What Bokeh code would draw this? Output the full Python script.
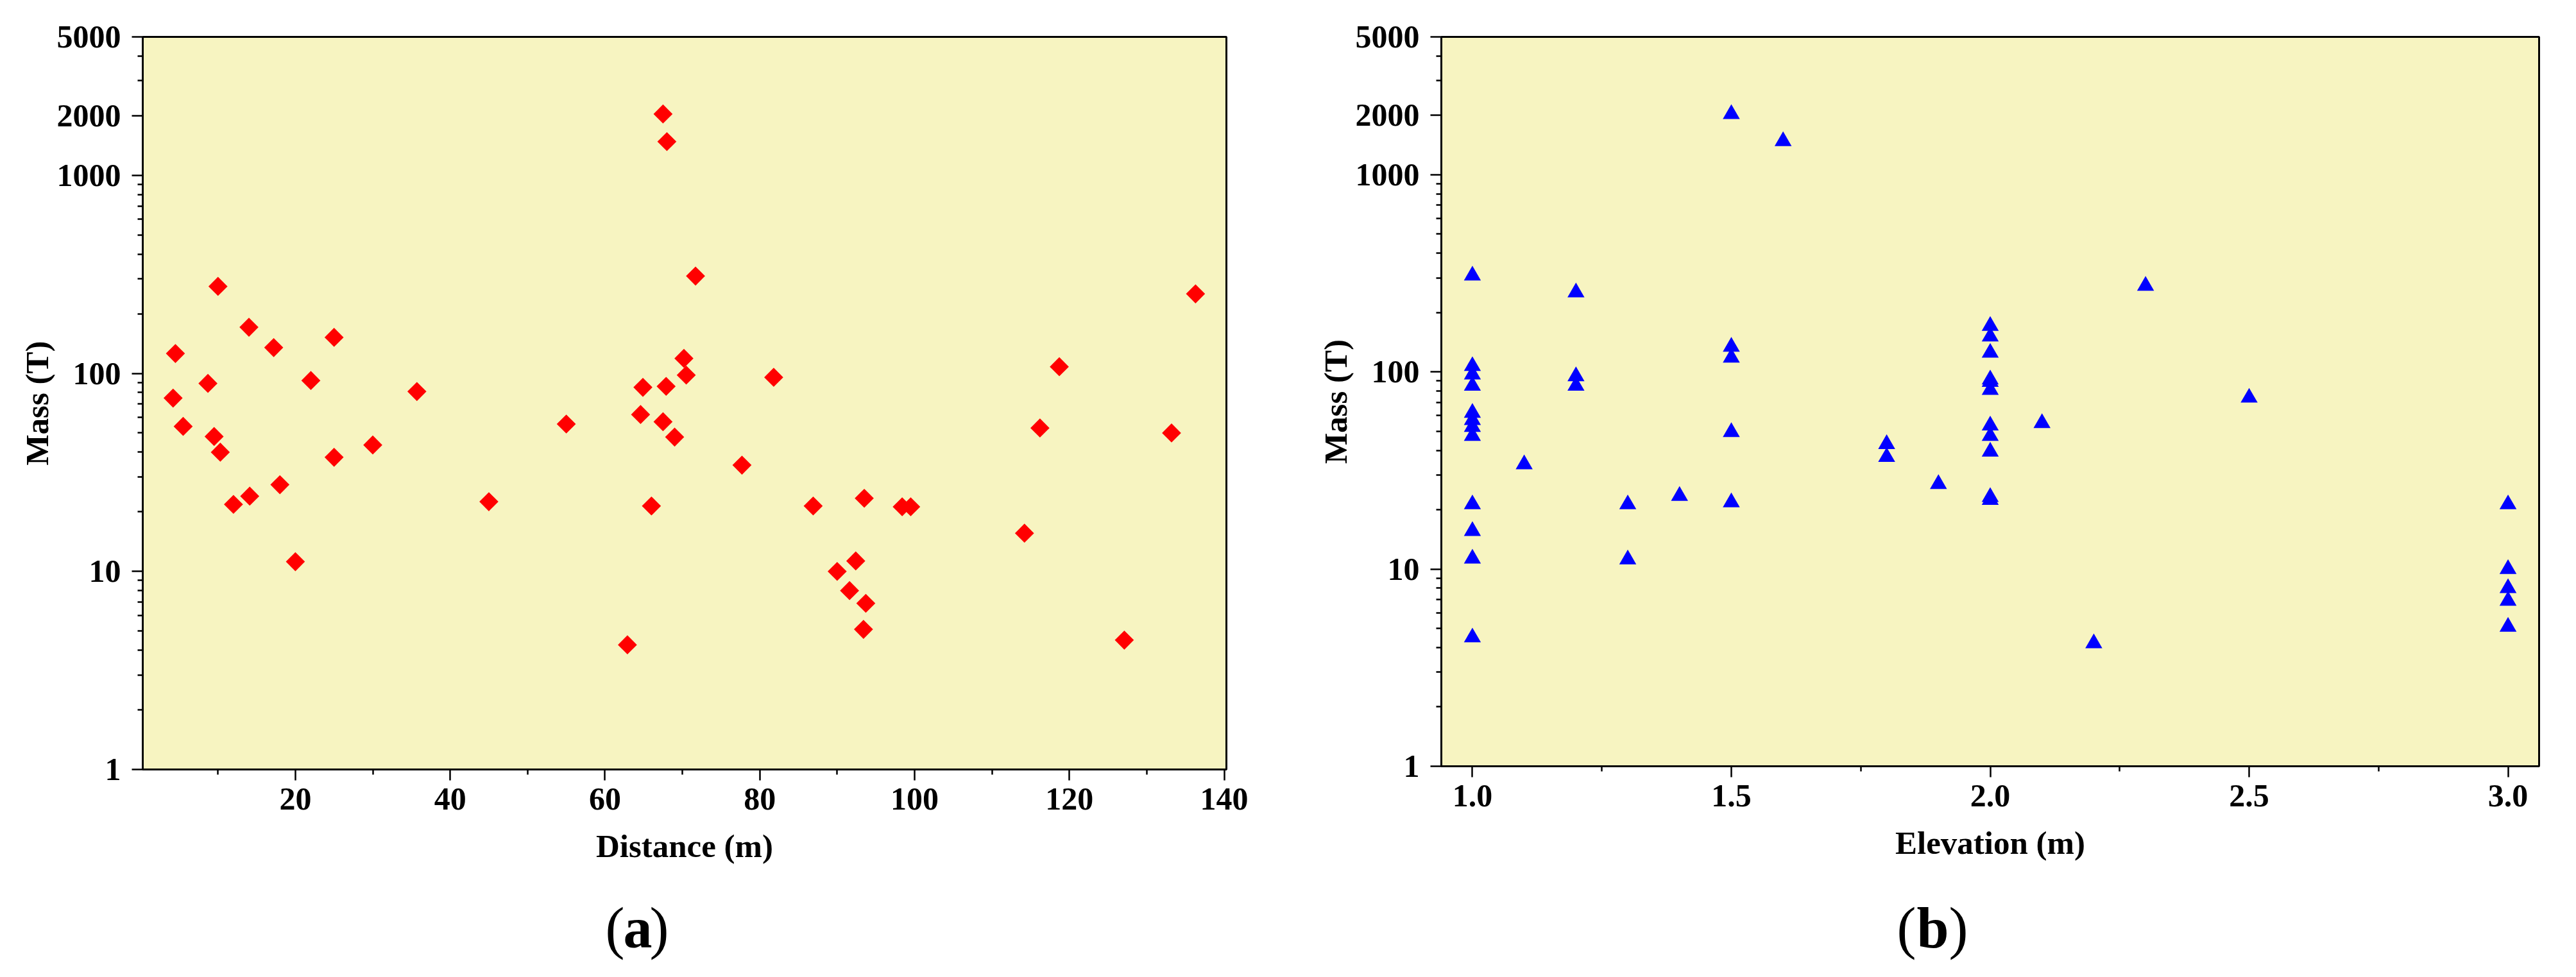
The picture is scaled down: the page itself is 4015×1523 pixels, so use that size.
from bokeh.plotting import figure
from bokeh.models import Range1d, FixedTicker, PrintfTickFormatter
from bokeh.core.properties import value
from bokeh.layouts import row, column
from bokeh.embed import file_html
from bokeh.resources import INLINE
import math

# ---------------- data ----------------
# (a) Mass vs distance
distance = [4.2, 4.5, 5.5, 8.7, 9.5, 10, 10.3, 12, 14, 14.1, 17.2, 18, 20, 22, 25, 25,
            30, 35.7, 45, 55, 62.9, 64.6, 64.9, 66, 67.5, 67.5, 67.9, 68, 69, 70.2,
            70.5, 71.7, 77.7, 81.8, 86.9, 90, 91.6, 92.4, 93.4, 93.5, 93.7, 98.4,
            99.5, 114.2, 116.2, 118.7, 127.1, 133.2, 136.3]
mass_a = [75, 126, 54, 89, 48, 275, 40, 21.8, 171, 24, 135, 27.4, 11.2, 92, 152, 37.7,
          43.5, 81, 22.5, 55.5, 4.26, 62, 85, 21.4, 2040, 57, 86, 1480, 47.7, 119,
          98, 310, 34.4, 95.5, 21.4, 10, 8, 11.3, 5.1, 23.4, 6.9, 21.2,
          21.2, 15.6, 53, 108, 4.5, 50, 252]

# (b) Mass vs elevation
elevation = [1.0, 1.0, 1.0, 1.0, 1.0, 1.0, 1.0, 1.0, 1.0, 1.0, 1.0, 1.0,
             1.1,
             1.2, 1.2, 1.2,
             1.3, 1.3,
             1.4,
             1.5, 1.5, 1.5, 1.5, 1.5,
             1.6,
             1.8, 1.8,
             1.9,
             2.0, 2.0, 2.0, 2.0, 2.0, 2.0, 2.0, 2.0, 2.0, 2.0, 2.0,
             2.1,
             2.2,
             2.3,
             2.5,
             3.0, 3.0, 3.0, 3.0, 3.0]
mass_b = [308, 107, 97, 85, 62, 57, 52.6, 47.3, 21.3, 15.6, 11.3, 4.5,
          34,
          253, 95, 85,
          21.3, 11.2,
          23.5,
          2030, 134, 118, 49.5, 21.8,
          1480,
          43, 37,
          27,
          171, 151, 125, 91.5, 89, 81, 53.5, 47.3, 39.4, 23.2, 22.4,
          55,
          4.2,
          273,
          74,
          21.3, 10, 8, 6.9, 5.1]

y_ticks = [1, 10, 100, 1000, 2000, 5000]
y_minor = [2, 3, 4, 5, 6, 7, 8, 9, 20, 30, 40, 50, 60, 70, 80, 90,
           200, 300, 400, 500, 600, 700, 800, 900, 3000, 4000]
x_ticks_a = [20, 40, 60, 80, 100, 120, 140]
x_minor_a = [10, 30, 50, 70, 90, 110, 130]
x_ticks_b = [1.0, 1.5, 2.0, 2.5, 3.0]
x_minor_b = [1.25, 1.75, 2.25, 2.75]

captions = ["a", "b"]

FONT = "Liberation Serif"
BG = "#F7F4C1"
MAIN_H = 1372
CAP_H = 135
TOTAL_W = 3999


def make_fig(xr, border_left, border_right, border_top, fw, fh, xlabel,
             xticks, xminor, xfmt):
    p = figure(title=None,
               x_range=Range1d(*xr), y_range=Range1d(1, 5000), y_axis_type="log",
               frame_width=fw, frame_height=fh,
               min_border_left=border_left, min_border_right=border_right,
               min_border_top=border_top, min_border_bottom=MAIN_H - border_top - fh,
               output_backend="svg", toolbar_location=None,
               background_fill_color=BG, border_fill_color="white")
    p.grid.visible = False
    p.outline_line_color = "black"
    p.outline_line_width = 3
    p.outline_line_alpha = 1.0
    for ax in (p.xaxis[0], p.yaxis[0]):
        ax.axis_line_width = 3
        ax.axis_line_color = "black"
        ax.major_tick_line_width = 2.5
        ax.minor_tick_line_width = 2.5
        ax.major_tick_line_color = "black"
        ax.minor_tick_line_color = "black"
        ax.major_tick_out = 17
        ax.major_tick_in = 0
        ax.minor_tick_out = 8
        ax.minor_tick_in = 0
        ax.major_label_text_font = FONT
        ax.major_label_text_font_size = "50px"
        ax.major_label_text_font_style = "bold"
        ax.major_label_text_color = "black"
        ax.axis_label_text_font = FONT
        ax.axis_label_text_font_size = "51px"
        ax.axis_label_text_font_style = "bold"
        ax.axis_label_text_color = "black"
    p.yaxis[0].ticker = FixedTicker(ticks=y_ticks, minor_ticks=y_minor)
    p.yaxis[0].formatter = PrintfTickFormatter(format="%d")
    p.yaxis[0].axis_label = "Mass (T)"
    p.yaxis[0].major_label_standoff = 17
    p.yaxis[0].axis_label_standoff = 0
    p.xaxis[0].ticker = FixedTicker(ticks=xticks, minor_ticks=xminor)
    p.xaxis[0].formatter = PrintfTickFormatter(format=xfmt)
    p.xaxis[0].axis_label = xlabel
    p.xaxis[0].major_label_standoff = 12
    p.xaxis[0].axis_label_standoff = 26
    return p


pa = make_fig((0.28, 140.29), 222, 89, 52, 1689, 1142, "Distance (m)",
              x_ticks_a, x_minor_a, "%d")
pa.scatter(distance, mass_a, marker="square", angle=math.pi / 4, size=21,
           fill_color="#FF0000", line_color=None)

pb = make_fig((0.94, 3.06), 246, 42, 57, 1711, 1137, "Elevation (m)",
              x_ticks_b, x_minor_b, "%.1f")
pb.scatter(elevation, mass_b, marker="triangle", size=26.5,
           fill_color="#0000FF", line_color=None)

# caption strip below the two panels (pixel-based coordinates for text placement)
cap = figure(title=None,
             x_range=Range1d(0, TOTAL_W), y_range=Range1d(0, CAP_H),
             frame_width=TOTAL_W, frame_height=CAP_H,
             min_border=0, x_axis_location=None, y_axis_location=None,
             output_backend="svg", toolbar_location=None,
             background_fill_color="white", border_fill_color="white")
cap.grid.visible = False
cap.outline_line_color = None

cap_x = [(943, 971, 1012), (2956, 2987, 3037)]
mid_y = 61
for letter, (x0, x1, x2) in zip(captions, cap_x):
    cap.text(x=[x0, x2], y=[mid_y, mid_y], text=["(", ")"],
             text_font=value(FONT), text_font_size="90px", text_font_style="normal",
             text_color="black", text_align="left", text_baseline="middle")
    cap.text(x=[x1], y=[mid_y], text=[letter],
             text_font=value(FONT), text_font_size="90px", text_font_style="bold",
             text_color="black", text_align="left", text_baseline="middle")

layout = column(row(pa, pb), cap)
open("out.html", "w").write(file_html(layout, INLINE))
